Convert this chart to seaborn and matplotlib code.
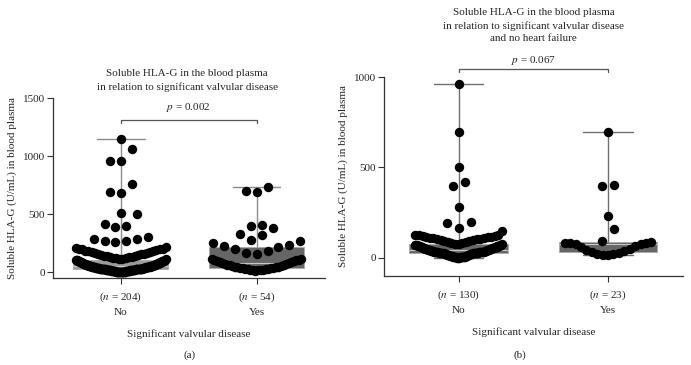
import numpy as np
import pandas as pd
import seaborn as sns
import matplotlib
matplotlib.use("Agg")
import matplotlib.pyplot as plt

# ---- data (U/mL) ----
groups = ["No", "Yes"]

# panel (a): significant valvular disease, all patients
a_no = [1144, 1060, 957, 957, 761, 692, 684, 508, 500, 414, 397, 391, 299, 287,
        282, 267, 267, 256, 215, 209, 197, 197, 195, 195, 190, 185, 182, 180,
        176, 172, 168, 164, 160, 156, 152, 148, 145, 142, 139, 136, 133, 130,
        127, 124, 121, 118, 115, 112, 109, 106, 104,
        102, 101, 100, 99, 98, 97, 96, 95, 94, 92, 91, 90, 89, 88, 86, 85, 84,
        82, 81, 80, 78, 77, 76, 75, 74, 72, 71, 70, 69, 68, 67, 66, 65, 64, 63,
        62, 61, 60, 59, 58, 57, 56, 55, 54, 53, 52, 52, 51, 51, 50, 50,
        49, 48, 48, 47, 46, 46, 45, 44, 44, 43, 42, 42, 41, 40, 40, 39, 38, 38,
        37, 36, 36, 35, 34, 34, 33, 32, 32, 31, 30, 30, 29, 29, 28, 28, 27, 27,
        26, 26, 25, 25, 25, 24, 24, 24, 24, 23, 23, 23, 23, 23, 23,
        22, 22, 21, 21, 20, 20, 19, 19, 18, 18, 17, 17, 16, 16, 15, 15, 14, 14,
        13, 13, 12, 12, 11, 11, 10, 10, 9, 9, 8, 8, 7, 7, 6, 6, 5, 5, 5, 4, 4,
        4, 3, 3, 3, 2, 2, 2, 1, 1, 1, 0, 0]
a_yes = [735, 701, 692, 405, 399, 382, 330, 316, 276, 264, 247, 233, 225, 216,
         201, 181, 166, 158, 115, 112, 108, 104, 100, 96, 92, 88, 84, 80, 76,
         72, 68, 64, 60, 57, 54, 51, 48, 45, 42, 40, 38, 36, 34, 32, 30, 28,
         26, 24, 22, 20, 18, 16, 14, 12]

# panel (b): significant valvular disease and no heart failure
b_no = [961, 696, 504, 418, 400, 280, 199, 195, 166, 149,
        128, 126, 124, 122, 120, 118, 116, 114, 112, 110, 108, 106, 104, 102,
        100, 98, 95, 92, 89, 86, 83, 80,
        76, 75, 74, 73, 72, 71, 70, 69, 68, 67, 66, 65, 64, 63, 62, 61, 60, 59,
        58, 57, 56, 55, 54, 53, 52, 51, 50, 49, 48, 47, 46, 45, 44, 43, 42, 41,
        40, 39, 38, 37, 36, 36, 35, 35, 34, 34, 33, 33, 32, 32, 31, 31, 30, 30,
        29, 29, 28, 28, 27, 27, 27, 26, 26, 26, 26, 26,
        25, 24, 23, 22, 21, 20, 19, 18, 17, 16, 15, 14, 13, 12, 11, 10, 9, 8,
        7, 6, 6, 5, 5, 4, 4, 3, 3, 2, 2, 1, 1, 0]
b_yes = [694, 402, 396, 230, 158, 94, 85, 84, 82, 80, 78, 74, 68, 60, 50, 42,
         36, 32, 28, 24, 20, 17, 15]

n_labels_a = ["204", "54"]
n_labels_b = ["130", "23"]
p_a = "0.002"
p_b = "0.067"


def dot_rows(vals, row_h, step, width):
    # prism-like scatter: values within row_h of the row's lowest value share a
    # row; the lowest sits nearest the centre, the rest fan out left/right
    v = np.sort(np.asarray(vals, dtype=float))
    off = np.zeros(len(v))
    i = 0
    while i < len(v):
        j = i
        while j < len(v) and v[j] < v[i] + row_h:
            j += 1
        n = j - i
        s = min(step, width / (n - 1)) if n > 1 else 0
        slots = (np.arange(n) - (n - 1) / 2) * s
        off[i:j] = slots[np.argsort(np.abs(slots), kind="stable")]
        i = j
    return v, off


sns.set_style("ticks")
plt.rcParams["font.family"] = ["Liberation Serif", "DejaVu Serif"]
plt.rcParams["mathtext.fontset"] = "stix"
plt.rcParams["font.size"] = 8

fig = plt.figure(figsize=(6.91, 3.65), dpi=100)
ax_a = fig.add_axes([0.0767, 0.238, 0.393, 0.4935])
ax_b = fig.add_axes([0.5557, 0.244, 0.4323, 0.545])


def panel(ax, no, yes, box_cols, wcol, bw, ylim, yticks, nlab, row_h, spread):
    df = pd.DataFrame({"grp": ["No"] * len(no) + ["Yes"] * len(yes),
                       "val": no + yes})
    sns.boxplot(data=df, x="grp", y="val", hue="grp", order=groups,
                palette=box_cols, whis=(0, 100), width=bw, fliersize=0,
                linewidth=1, linecolor=wcol, legend=False, ax=ax,
                boxprops=dict(edgecolor="#aaaaaa", linewidth=0.6),
                medianprops=dict(color="#c8c8c8", linewidth=0.8))
    pts = []
    for k, vals in enumerate([no, yes]):
        v, off = dot_rows(vals, row_h, 0.08, spread)
        pts.append(pd.DataFrame({"x": k + off, "val": v}))
    pts = pd.concat(pts)
    sns.scatterplot(data=pts, x="x", y="val", color="black", s=46,
                    linewidth=0, zorder=3, ax=ax)
    ax.set_xlim(-0.5, 1.5)
    ax.set_ylim(*ylim)
    ax.set_yticks(yticks)
    ax.set_xticks([0, 1])
    ax.set_xticklabels(["($n$ = %s)\n%s" % (n, g) for n, g in zip(nlab, groups)],
                       linespacing=1.55)
    ax.set_xlabel("Significant valvular disease", labelpad=9)
    ax.set_ylabel("Soluble HLA-G (U/mL) in blood plasma", labelpad=4)
    sns.despine(ax=ax)
    for s in ["left", "bottom"]:
        ax.spines[s].set_color("#333333")
        ax.spines[s].set_linewidth(0.9)
    ax.tick_params(length=4, width=0.8, color="#333333", labelsize=8)
    ax.tick_params(axis="x", pad=5)
    ax.tick_params(axis="y", pad=2)


panel(ax_a, a_no, a_yes, ["#9b9b9b", "#666666"], "#8c8c8c", 0.7,
      (-52, 1500), [0, 500, 1000, 1500], n_labels_a, 110, 0.66)
panel(ax_b, b_no, b_yes, ["#666666", "#666666"], "#6e6e6e", 0.66,
      (-100, 1000), [0, 500, 1000], n_labels_b, 75, 0.58)

# significance brackets
for ax, yb, tick, yp, p in [(ax_a, 1310, 28, 1422, p_a),
                            (ax_b, 1044, 17, 1094, p_b)]:
    ax.plot([0, 0, 1, 1], [yb - tick, yb, yb, yb - tick], color="#555555",
            lw=0.9, clip_on=False)
    ax.text(0.5, yp, "$p$ = " + p, ha="center", va="center", fontsize=8,
            clip_on=False)

fig.text(0.271, 0.78, "Soluble HLA-G in the blood plasma\n"
         "in relation to significant valvular disease",
         ha="center", va="center", fontsize=8, linespacing=1.5)
fig.text(0.772, 0.929, "Soluble HLA-G in the blood plasma\n"
         "in relation to significant valvular disease\nand no heart failure",
         ha="center", va="center", fontsize=8, linespacing=1.5)
fig.text(0.275, 0.027, "(a)", ha="center", va="center", fontsize=8)
fig.text(0.752, 0.027, "(b)", ha="center", va="center", fontsize=8)

fig.savefig("out.png", dpi=100)
